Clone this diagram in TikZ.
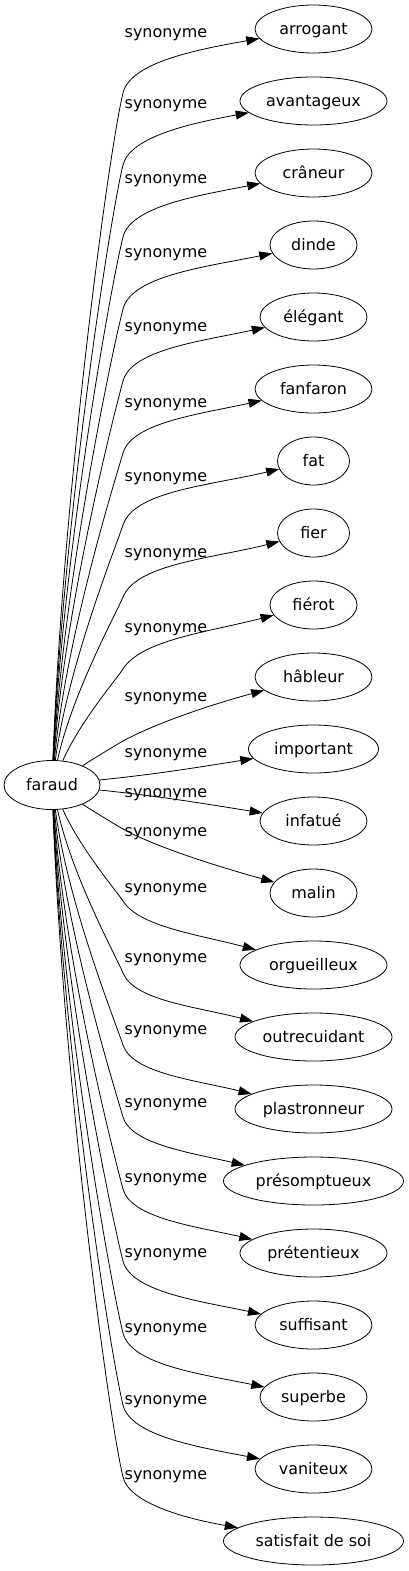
\documentclass[tikz,border=0pt]{standalone}
\usepackage{fontspec}
\setmainfont{DejaVu Sans}
\usetikzlibrary{shapes.geometric,arrows.meta}

\tikzset{
	syn/.style={draw, ellipse, line width=0.8bp, inner xsep=0pt, inner ysep=2pt,
		minimum height=48bp, text height=15.2bp, text depth=3.8bp},
	synlabel/.style={anchor=base west, inner sep=0pt},
	synedge/.style={line width=0.8bp, -{Triangle[length=13bp,width=9bp]}}
}

\begin{document}
\begin{tikzpicture}[x=1bp,y=-1bp,font=\fontsize{16}{19}\selectfont]
		\def\ymid{785}   % centre of the source node
		\def\xsyn{313.5} % centre of the synonym column
		\def\xlab{124.5} % left edge of the labels
		\useasboundingbox (0,0) rectangle (408,1571);
		
		\node[syn, minimum width=96bp, minimum height=49bp] (faraud) at (52,\ymid) {faraud};
		
		\foreach \i/\nm/\txt/\w/\ly in {
			0/arrogant/arrogant/117/33,
			1/avantageux/avantageux/147/104,
			2/craneur/crâneur/117/179,
			3/dinde/dinde/87/253,
			4/elegant/élégant/107/327,
			5/fanfaron/fanfaron/117/403,
			6/fat/fat/72/477,
			7/fier/fier/72/553,
			8/fierot/fiérot/87/628,
			9/hableur/hâbleur/117/697,
			10/important/important/130/753,
			11/infatue/infatué/107/793,
			12/malin/malin/87/832,
			13/orgueilleux/orgueilleux/147/888,
			14/outrecuidant/outrecuidant/157/958,
			15/plastronneur/plastronneur/157/1030,
			16/presomptueux/présomptueux/180/1103,
			17/pretentieux/prétentieux/147/1178,
			18/suffisant/suffisant/117/1253,
			19/superbe/superbe/107/1328,
			20/vaniteux/vaniteux/117/1400,
			21/satisfait/satisfait de soi/180/1475}{
			\pgfmathsetmacro\ty{29+72*\i}
			\pgfmathsetmacro\dd{\ymid-\ty}
			\pgfmathsetmacro\s{sign(\dd)}
			\pgfmathtruncatemacro\near{abs(\dd)<50}
			\pgfmathsetmacro\kk{24+44*exp(-(abs(\dd)-108)/150)}
			\pgfmathsetmacro\aa{atan2(abs(\dd)-64,\kk)}
			\pgfmathsetmacro\th{0.87*\aa}
			\pgfmathsetmacro\be{10+6*(1-abs(\dd)/756)}
			\pgfmathsetmacro\aout{\s*\aa}
			\pgfmathsetmacro\ain{180+\s*\th}
			\pgfmathsetmacro\bout{\s*\th}
			\pgfmathsetmacro\bin{180+\s*\be}
			\pgfmathsetmacro\nout{\s*6}
			\pgfmathsetmacro\nin{180+\s*9}
			
			\node[syn, minimum width=\w bp] (\nm) at (\xsyn,\ty) {\txt};
			\node[synlabel] (lab\i) at (\xlab,{\ly+4.5}) {synonyme};
			
			\ifnum\near=1
			\draw[synedge] (faraud) to[out=\nout, in=\nin] (\nm);
			\else
			\draw[synedge] (faraud) to[out=\aout, in=\ain, in looseness=0.25] (123,{\ty+\s*64})
				to[out=\bout, in=\bin, out looseness=0.55, in looseness=1.1] (\nm);
			\fi
		}
		
	\end{tikzpicture}
\end{document}
